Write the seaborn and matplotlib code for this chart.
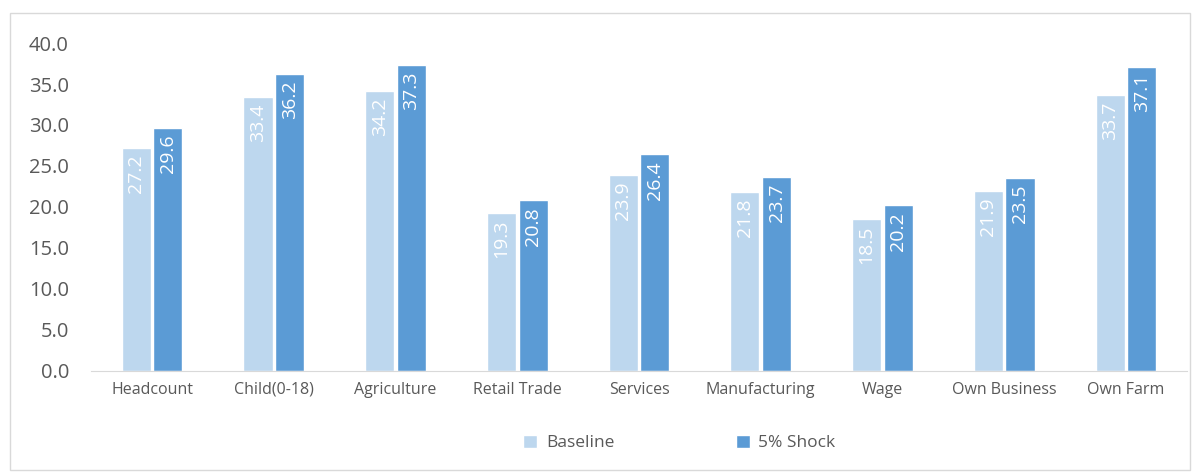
import pandas as pd
import numpy as np
import matplotlib.pyplot as plt
import seaborn as sns
from matplotlib.patches import Rectangle

categories = ["Headcount", "Child(0-18)", "Agriculture", "Retail Trade", "Services",
              "Manufacturing", "Wage", "Own Business", "Own Farm"]
baseline = [27.2, 33.4, 34.2, 19.3, 23.9, 21.8, 18.5, 21.9, 33.7]
shock = [29.6, 36.2, 37.3, 20.8, 26.4, 23.7, 20.2, 23.5, 37.1]
series = ["Baseline", "5% Shock"]
colors = ["#BDD7EE", "#5B9BD5"]

df = pd.DataFrame({
    "cat": categories * 2,
    "val": baseline + shock,
    "series": [series[0]] * len(categories) + [series[1]] * len(categories),
})

sns.set_style("white")
plt.rcParams["font.family"] = ["Open Sans", "DejaVu Sans"]

fig = plt.figure(figsize=(12, 4.73), dpi=100)
ax = fig.add_axes([0.076, 0.216, 0.913, 0.693])

sns.barplot(data=df, x="cat", y="val", hue="series", palette=colors,
            width=0.52, gap=0.08, ax=ax, saturation=1, legend=True)

# value labels inside bars, rotated
for cont in ax.containers:
    for bar in cont:
        h = bar.get_height()
        ax.text(bar.get_x() + bar.get_width() / 2, h - 0.8, f"{h:.1f}",
                rotation=90, ha="center", va="top", color="white", fontsize=14)

ax.set_ylim(0, 40)
ax.set_yticks(np.arange(0, 40.1, 5))
ax.set_yticklabels([f"{v:.1f}" for v in np.arange(0, 40.1, 5)], fontsize=14.5, color="#595959")
ax.tick_params(axis="x", labelsize=11.5, colors="#595959", length=0, pad=8)
ax.tick_params(axis="y", length=0, pad=16)
ax.set_xlabel("")
ax.set_ylabel("")
for s in ["top", "right", "left"]:
    ax.spines[s].set_visible(False)
ax.spines["bottom"].set_color("#D9D9D9")
ax.set_xlim(-0.5, len(categories) - 0.5)

ax.legend(loc="center", bbox_to_anchor=(0.537, -0.22), ncol=2, frameon=False,
          fontsize=12.5, handlelength=0.8, handleheight=0.8, columnspacing=7,
          labelcolor="#595959", handletextpad=0.5)

fig.patches.append(Rectangle((10 / 1200, 3 / 473), 1180 / 1200, 457 / 473,
                             transform=fig.transFigure, fill=False,
                             edgecolor="#D9D9D9", linewidth=1))

fig.savefig("out.png", dpi=100)
